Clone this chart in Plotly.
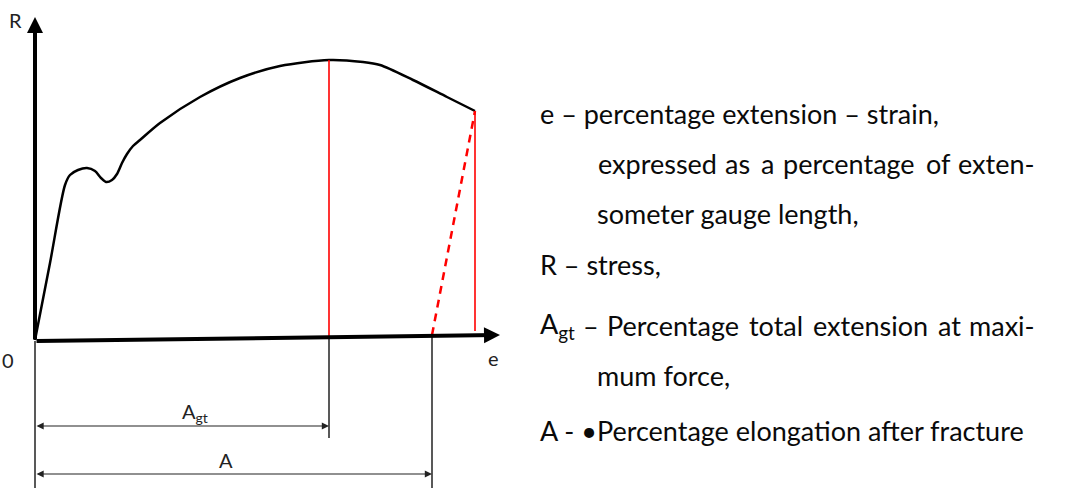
import plotly.graph_objects as go

# Engineering stress-strain curve (schematic units: e to the right, R upward)
curve_e = [0, 15, 30, 35, 43, 52, 60, 66, 71, 77, 82, 87, 92, 98, 105, 125, 165, 205, 245, 294, 328, 345, 378, 412, 440]
curve_R = [1, 78, 156, 166, 171, 173, 170, 163, 159, 161, 167, 178, 187, 195, 201, 218, 244, 263, 275, 281, 279, 276, 261, 244, 230]

# Characteristic points
e_max_force = 294      # extension at maximum force
R_max_force = 281
e_fracture = 440       # extension at fracture
R_fracture = 230
e_after_fracture = 397 # permanent elongation after fracture

# Axis extents
e_axis_end = 465
R_axis_end = 324

# Dimension line levels below the axis
dim_Agt_level = -85
dim_A_level = -133
drop_Agt_bottom = -97
drop_bottom = -147

# Legend text
legend_lines = [
    ("e – percentage extension – strain,", 503, 228),
    ("someter gauge length,", 560, 128),
    ("R – stress,", 503, 77),
    ("mum force,", 560, -34),
    ("A - •Percentage elongation after fracture", 503, -89),
]
# justified lines: (words, anchors, x positions, y)
justified_lines = [
    (["expressed", "as", "a", "percentage", "of", "exten-"],
     ["left", "center", "center", "center", "center", "right"],
     [561, 702, 732, 814, 903, 1002], 178),
    (["A<sub>gt</sub>", "–", "Percentage", "total", "extension", "at", "maxi-"],
     ["left", "center", "center", "center", "center", "center", "right"],
     [503, 556, 638, 741, 835, 914, 1002], 16),
]

FONT = "Lato"
fig = go.Figure()

# main curve
fig.add_trace(go.Scatter(x=curve_e, y=curve_R, mode="lines",
                         line=dict(color="black", width=2.5, shape="spline", smoothing=0.8),
                         hoverinfo="skip"))

# red vertical at maximum force
fig.add_trace(go.Scatter(x=[e_max_force, e_max_force], y=[3, R_max_force], mode="lines",
                         line=dict(color="red", width=1.6), hoverinfo="skip"))
# red vertical at fracture
fig.add_trace(go.Scatter(x=[e_fracture, e_fracture], y=[10, R_fracture], mode="lines",
                         line=dict(color="red", width=1.6), hoverinfo="skip"))
# elastic unloading line after fracture
fig.add_trace(go.Scatter(x=[e_after_fracture, e_fracture], y=[6, R_fracture], mode="lines",
                         line=dict(color="red", width=2.5, dash="8px,6px"), hoverinfo="skip"))

# black drop lines below the axis
fig.add_trace(go.Scatter(x=[e_max_force, e_max_force], y=[3, drop_Agt_bottom], mode="lines",
                         line=dict(color="#222", width=1.5), hoverinfo="skip"))
fig.add_trace(go.Scatter(x=[e_after_fracture, e_after_fracture], y=[5, drop_bottom], mode="lines",
                         line=dict(color="#222", width=1.5), hoverinfo="skip"))
fig.add_trace(go.Scatter(x=[0, 0], y=[0, drop_bottom], mode="lines",
                         line=dict(color="#222", width=1.5), hoverinfo="skip"))

ann = []
# axes with arrowheads
ann.append(dict(x=0, y=R_axis_end, ax=0, ay=0, xref="x", yref="y", axref="x", ayref="y",
                showarrow=True, arrowhead=2, arrowsize=0.8, arrowwidth=4, arrowcolor="black", text=""))
ann.append(dict(x=e_axis_end, y=6, ax=0, ay=0, xref="x", yref="y", axref="x", ayref="y",
                showarrow=True, arrowhead=2, arrowsize=0.8, arrowwidth=4, arrowcolor="black", text=""))
# dimension lines
for lvl, end in [(dim_Agt_level, e_max_force), (dim_A_level, e_after_fracture)]:
    ann.append(dict(x=end, y=lvl, ax=0, ay=lvl, xref="x", yref="y", axref="x", ayref="y",
                    showarrow=True, arrowhead=2, arrowside="end+start", arrowsize=1.2,
                    arrowwidth=1.2, arrowcolor="#222", text=""))

# axis labels
lab_font = dict(family=FONT, size=20, color="#222")
ann.append(dict(x=-20, y=321, text="R", showarrow=False, font=lab_font, xref="x", yref="y"))
ann.append(dict(x=-27, y=-19, text="0", showarrow=False, font=lab_font, xref="x", yref="y"))
ann.append(dict(x=458, y=-17, text="e", showarrow=False, font=lab_font, xref="x", yref="y"))
ann.append(dict(x=160, y=-71, text="A<sub>gt</sub>", showarrow=False, font=lab_font, xref="x", yref="y"))
ann.append(dict(x=191, y=-119, text="A", showarrow=False, font=lab_font, xref="x", yref="y"))

txt_font = dict(family=FONT, size=27, color="#0a0a0a")
for text, x, y in legend_lines:
    ann.append(dict(x=x, y=y, text=text, showarrow=False, font=txt_font, xref="x", yref="y",
                    xanchor="left", yanchor="middle"))
for words, anchors, xs, y in justified_lines:
    for w, a, x in zip(words, anchors, xs):
        ann.append(dict(x=x, y=y, text=w, showarrow=False, font=txt_font, xref="x", yref="y",
                        xanchor=a, yanchor="middle"))

fig.update_layout(
    width=1073, height=488, margin=dict(l=0, r=0, t=0, b=0),
    paper_bgcolor="white", plot_bgcolor="white", showlegend=False,
    xaxis=dict(range=[-35, 1038], visible=False, fixedrange=True),
    yaxis=dict(range=[-147, 341], visible=False, fixedrange=True),
    annotations=ann,
)
fig.write_html("out.html")
